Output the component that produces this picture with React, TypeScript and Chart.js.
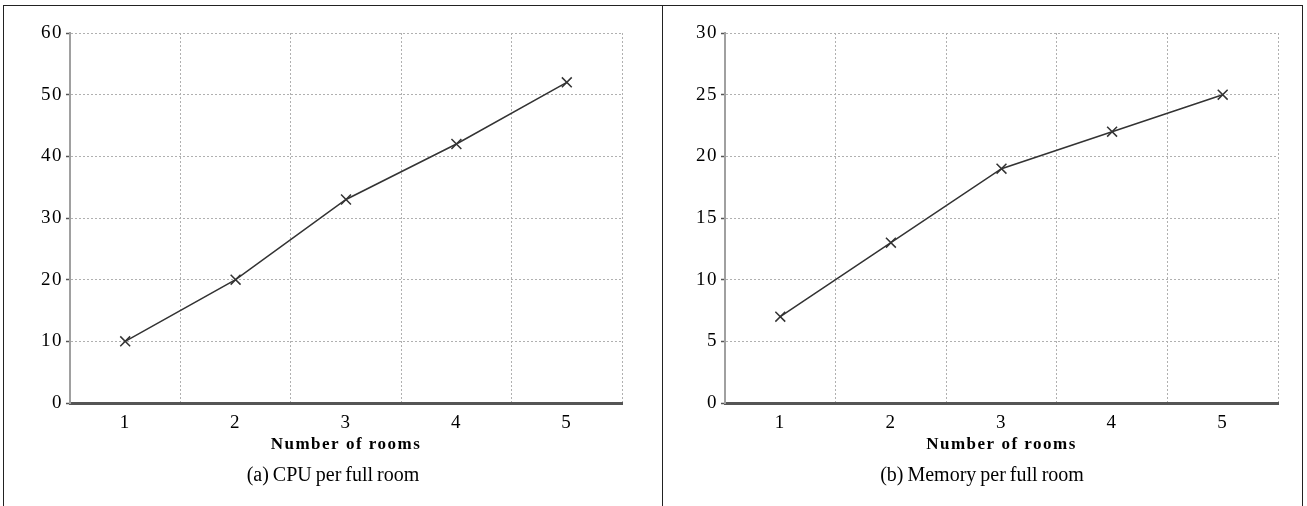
import React, { useEffect, useRef } from "react";
import { Chart, registerables } from "chart.js";

Chart.register(...registerables);

const categories = ["1", "2", "3", "4", "5"];
const cpuValues = [10, 20, 33, 42, 52];
const memoryValues = [7, 13, 19, 22, 25];
const xTitle = "Number of rooms";
const captionA = "(a) CPU per full room";
const captionB = "(b) Memory per full room";

const SERIF = "'Liberation Serif', 'DejaVu Serif', serif";

const spacingPlugin = {
  id: "spacing",
  beforeDraw(chart: any) {
    (chart.ctx as any).letterSpacing = "1.5px";
  },
};

type PanelProps = {
  values: number[];
  yMax: number;
  yStep: number;
  padLeft: number;
  padRight: number;
  width: number;
};

function Panel({ values, yMax, yStep, padLeft, padRight, width }: PanelProps) {
  const ref = useRef<HTMLCanvasElement>(null);
  useEffect(() => {
    if (!ref.current) return;
    const chart = new Chart(ref.current, {
      type: "line",
      data: {
        labels: categories,
        datasets: [
          {
            data: values,
            borderColor: "#333",
            borderWidth: 1.5,
            pointStyle: "crossRot",
            pointRadius: 7,
            pointBorderWidth: 1.5,
            pointBorderColor: "#333",
            pointBackgroundColor: "#333",
            tension: 0,
            fill: false,
          },
        ],
      },
      plugins: [spacingPlugin],
      options: {
        responsive: false,
        animation: false,
        devicePixelRatio: 1,
        layout: { padding: { top: 27, right: padRight, bottom: 51, left: 0 } },
        plugins: { legend: { display: false }, tooltip: { enabled: false }, title: { display: false } },
        scales: {
          x: {
            type: "category",
            offset: true,
            border: { display: true, color: "#555", width: 3, dash: [2, 2] },
            grid: {
              offset: true,
              display: true,
              color: "#b0b0b0",
              lineWidth: 1,
              drawTicks: false,
            } as any,
            ticks: {
              color: "#000",
              padding: 9,
              font: { family: SERIF, size: 19 },
            },
            title: {
              display: true,
              text: xTitle,
              color: "#000",
              padding: 0,
              font: { family: SERIF, size: 17, weight: "bold" },
            },
            afterFit: (scale: any) => {
              scale.height = 52;
            },
          },
          y: {
            min: 0,
            max: yMax,
            border: { display: true, color: "#a0a0a0", width: 2, dash: [2, 2] },
            grid: {
              color: "#b0b0b0",
              lineWidth: 1,
              drawTicks: true,
              tickLength: 4,
              tickColor: "#555",
              tickWidth: 1.5,
              tickBorderDash: [],
            } as any,
            ticks: {
              stepSize: yStep,
              color: "#000",
              padding: 3,
              font: { family: SERIF, size: 19 },
            },
            afterFit: (scale: any) => {
              scale.width = padLeft;
            },
          },
        },
      },
    });
    return () => chart.destroy();
  }, []);
  return <canvas ref={ref} width={width} height={500} style={{ display: "block", width, height: 500 }} />;
}

const line = (s: React.CSSProperties): React.CSSProperties => ({ position: "absolute", background: "#222", ...s });

const captionStyle: React.CSSProperties = {
  position: "absolute",
  top: 463,
  textAlign: "center",
  fontFamily: SERIF,
  fontSize: 20,
  color: "#000",
  wordSpacing: -1,
};

export default function App() {
  return (
    <div style={{ position: "fixed", left: 0, top: 0, width: 1307, height: 506, background: "#fff", overflow: "hidden" }}>
      <div style={line({ left: 3, top: 5, width: 1300, height: 1 })} />
      <div style={line({ left: 3, top: 5, width: 1, height: 501 })} />
      <div style={line({ left: 662, top: 5, width: 1, height: 501 })} />
      <div style={line({ left: 1302, top: 5, width: 1, height: 501 })} />
      <div style={{ position: "absolute", left: 4, top: 6 }}>
        <Panel values={cpuValues} yMax={60} yStep={10} padLeft={66} padRight={40} width={658} />
      </div>
      <div style={{ position: "absolute", left: 663, top: 6 }}>
        <Panel values={memoryValues} yMax={30} yStep={5} padLeft={62} padRight={23} width={638} />
      </div>
      <div style={{ ...captionStyle, left: 4, width: 658 }}>{captionA}</div>
      <div style={{ ...captionStyle, left: 663, width: 638 }}>{captionB}</div>
    </div>
  );
}
